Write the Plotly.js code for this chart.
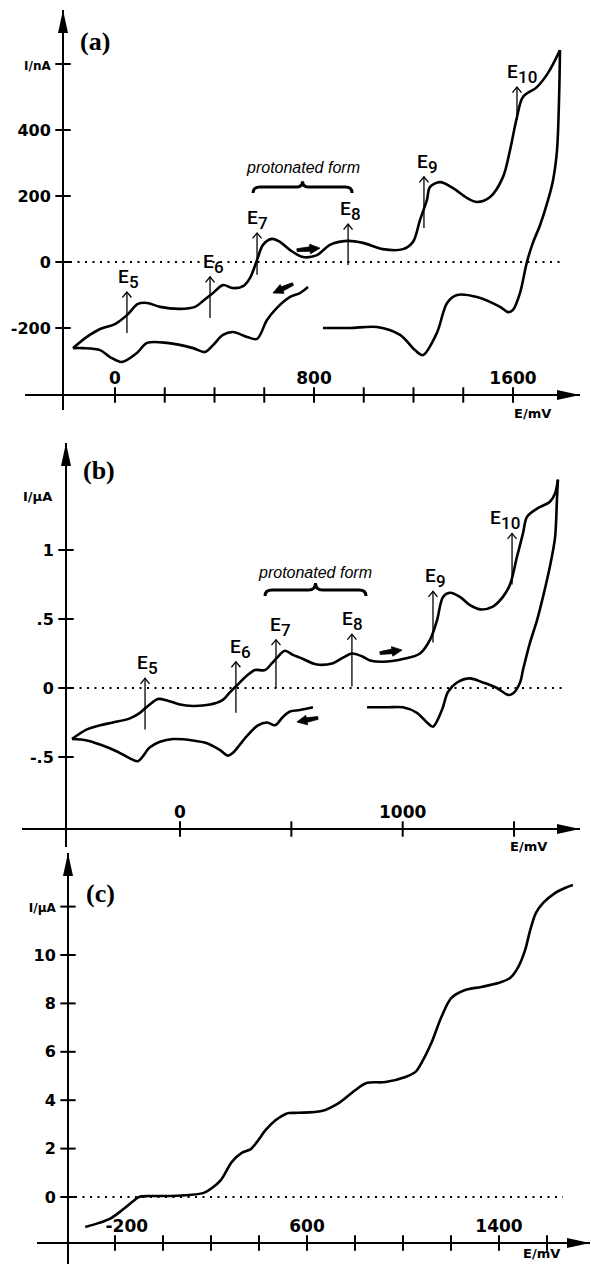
<!DOCTYPE html>
<html><head><meta charset="utf-8">
<script src="https://cdn.plot.ly/plotly-3.0.1.min.js"></script>
<style>html,body{margin:0;padding:0;background:#fff;}#chart{width:591px;height:1264px;}</style>
</head><body><div id="chart"></div>
<script>
// ---------- DATA ----------
// Panel (a): cyclic voltammogram, E / mV, I / nA
const aFwdE = [-169,-113,-60,0,48,92,129,181,261,322,354,394,434,474,515,543,571,595,631,663,704,756,812,864,933,997,1077,1158,1198,1226,1254,1266,1307,1359,1415,1455,1508,1560,1588,1616,1640,1696,1741,1789];
const aFwdI = [-261,-227,-203,-188,-161,-127,-124,-136,-142,-136,-118,-94,-70,-79,-73,-48,6,52,70,61,36,15,21,52,64,58,39,39,61,127,188,227,242,224,194,182,197,258,339,439,500,530,573,642];
const aRevE = [1789,1785,1777,1761,1741,1709,1680,1656,1628,1600,1580,1548,1455,1375,1335,1294,1238,1206,1146,1053,945,836];
const aRevI = [642,491,339,248,188,112,58,0,-94,-145,-152,-136,-106,-100,-124,-215,-282,-267,-221,-197,-200,-200];
const aRev2E = [776,744,704,651,611,571,531,474,434,394,362,314,209,129,88,28,-20,-60,-129,-169];
const aRev2I = [-76,-94,-106,-139,-176,-233,-227,-212,-221,-252,-273,-261,-245,-245,-276,-303,-288,-267,-261,-261];

// Panel (b): cyclic voltammogram, E / mV, I / uA
const bFwdE = [-485,-418,-359,-301,-225,-180,-144,-99,-58,0,58,135,189,225,256,301,337,382,413,436,471,507,539,615,687,732,772,817,853,911,1001,1078,1123,1154,1181,1212,1257,1302,1347,1405,1450,1482,1513,1540,1558,1603,1661,1684,1697];
const bFwdI = [-0.37,-0.30,-0.27,-0.25,-0.22,-0.18,-0.13,-0.08,-0.09,-0.12,-0.13,-0.12,-0.09,-0.03,0.02,0.09,0.13,0.13,0.18,0.22,0.27,0.24,0.22,0.17,0.18,0.22,0.25,0.23,0.20,0.19,0.21,0.25,0.35,0.49,0.66,0.69,0.66,0.60,0.57,0.59,0.66,0.75,0.95,1.12,1.24,1.30,1.35,1.41,1.51];
const bRevE = [1697,1693,1684,1661,1630,1603,1572,1540,1527,1495,1473,1423,1360,1302,1244,1203,1176,1136,1109,1064,1001,929,840];
const bRevI = [1.51,1.38,1.09,0.88,0.66,0.49,0.33,0.13,0.04,-0.04,-0.05,0.00,0.04,0.07,0.04,-0.03,-0.16,-0.28,-0.25,-0.18,-0.14,-0.14,-0.14];
const bRev2E = [597,539,494,462,427,391,350,305,269,238,216,180,121,58,-31,-90,-135,-189,-225,-283,-359,-418,-485];
const bRev2I = [-0.14,-0.16,-0.17,-0.21,-0.27,-0.25,-0.27,-0.34,-0.41,-0.47,-0.49,-0.45,-0.40,-0.38,-0.37,-0.39,-0.43,-0.53,-0.51,-0.46,-0.41,-0.38,-0.37];

// Panel (c): steady-state voltammogram, E / mV, I / uA
const cE = [-324,-266,-216,-170,-129,-100,-58,37,108,170,204,241,287,328,366,391,428,470,511,524,565,661,732,802,848,927,1010,1052,1077,1118,1160,1201,1259,1326,1397,1446,1480,1509,1530,1554,1584,1633,1675,1708];
const cI = [-1.24,-1.07,-0.87,-0.54,-0.21,0,0.04,0.04,0.08,0.17,0.37,0.70,1.45,1.82,1.98,2.27,2.77,3.18,3.43,3.47,3.48,3.55,3.88,4.42,4.71,4.75,4.96,5.17,5.54,6.36,7.44,8.22,8.55,8.68,8.84,9.05,9.50,10.21,11.03,11.74,12.15,12.56,12.77,12.89];

// Formal potentials marked with arrows
const eSub = ['5','6','7','8','9','10'];
const aE = [48,382,571,937,1242,1616];
const aEfrom = [-215,-170,-39,-9,103,430];
const aEto = [-91,-45,88,115,258,530];
const bE = [-157,251,431,772,1136,1491];
const bEfrom = [-0.30,-0.18,0,0.01,0.33,0.75];
const bEto = [0.07,0.19,0.35,0.39,0.70,1.12];

// Tick values and labels
const aXTicks = [0,200,400,600,800,1000,1200,1400,1600];
const aXLabVals = [0,800,1600], aXLabText = ['0','800','1600'];
const aYTicks = [-200,0,200,400,600];
const aYLabText = ['-200','0','200','400','I/nA'];
const bXTicks = [0,500,1000,1500];
const bXLabVals = [0,1000], bXLabText = ['0','1000'];
const bYTicks = [-0.5,0,0.5,1];
const bYLabText = ['-.5','0','.5','1'];
const cXTicks = [-200,0,200,400,600,800,1000,1200,1400,1600];
const cXLabVals = [-200,600,1400], cXLabText = ['\u00a0\u00a0\u00a0\u00a0-200','600','1400'];
const cYTicks = [0,2,4,6,8,10,12];
const cYLabText = ['0','2','4','6','8','10','I/\u03bcA'];

// ---------- LAYOUT GEOMETRY (pixels of the 591x1264 page) ----------
const W = 591, H = 1264;
const px2p = v => v / W, py2p = v => 1 - v / H;
const cal = [
  {x0:115, kx:0.24875, y0:262,  ky:0.33, xl:25, xr:580, yt:10,  yb:410,  axY:395,  axX:63},
  {x0:180, kx:0.2227,  y0:688,  ky:138,  xl:22, xr:580, yt:443, yb:847,  axY:829,  axX:66},
  {x0:163, kx:0.24,    y0:1197, ky:24.2, xl:37, xr:590, yt:853, yb:1264, axY:1243, axX:68}
];
const dX = (c,p) => (p - c.x0) / c.kx;
const dY = (c,p) => (c.y0 - p) / c.ky;

const BOLD = {family:'DejaVu Sans', weight:'bold', color:'#000'};
const unitSpan = t => '<span style="font-size:12px">' + t + '</span>';

function xAxis(c, vals, text, size){
  return {domain:[px2p(c.xl), px2p(c.xr)], range:[dX(c,c.xl), dX(c,c.xr)], anchor:'free', position:py2p(c.axY),
    showline:true, linecolor:'#000', linewidth:2.2, showgrid:false, zeroline:false, ticks:'',
    tickmode:'array', tickvals:vals, ticktext:text, ticklabelposition:'inside', ticklabelstandoff:7,
    tickfont:Object.assign({size:size}, BOLD), fixedrange:true};
}
function yAxis(c, vals, text){
  return {domain:[py2p(c.yb), py2p(c.yt)], range:[dY(c,c.yb), dY(c,c.yt)], anchor:'free', position:px2p(c.axX),
    showline:true, linecolor:'#000', linewidth:2.2, showgrid:false, zeroline:false, ticks:'',
    tickmode:'array', tickvals:vals, ticktext:text, ticklabelstandoff:8,
    tickfont:Object.assign({size:16}, BOLD), fixedrange:true};
}

const curve = {color:'#000', width:2.6, shape:'spline', smoothing:0.9};
const traces = [];
function addCurve(x, y, xa, ya){ traces.push({type:'scatter', mode:'lines', x:x, y:y, xaxis:xa, yaxis:ya, line:curve, hoverinfo:'skip'}); }
function addTicks(c, xt, yt, xa, ya){
  const xPos = dY(c, c.axY), yPos = dX(c, c.axX);
  traces.push({type:'scatter', mode:'markers', x:xt, y:xt.map(()=>xPos), xaxis:xa, yaxis:ya, cliponaxis:false,
    marker:{symbol:'line-ns', size:11, line:{width:2, color:'#000'}}, hoverinfo:'skip'});
  traces.push({type:'scatter', mode:'markers', x:yt.map(()=>yPos), y:yt, xaxis:xa, yaxis:ya, cliponaxis:false,
    marker:{symbol:'line-ew', size:11, line:{width:2, color:'#000'}}, hoverinfo:'skip'});
}

addCurve(aFwdE, aFwdI, 'x', 'y'); addCurve(aRevE, aRevI, 'x', 'y'); addCurve(aRev2E, aRev2I, 'x', 'y');
addCurve(bFwdE, bFwdI, 'x2', 'y2'); addCurve(bRevE, bRevI, 'x2', 'y2'); addCurve(bRev2E, bRev2I, 'x2', 'y2');
addCurve(cE, cI, 'x3', 'y3');
addTicks(cal[0], aXTicks, aYTicks, 'x', 'y');
addTicks(cal[1], bXTicks, bYTicks, 'x2', 'y2');
addTicks(cal[2], cXTicks, cYTicks, 'x3', 'y3');

const shapes = [], ann = [];
const NOLINE = {width:0, color:'rgba(0,0,0,0)'};
// axis arrowheads
function tri(pts){ return 'M' + pts.map(p => px2p(p[0]) + ',' + py2p(p[1])).join(' L') + ' Z'; }
cal.forEach(c => {
  shapes.push({type:'path', xref:'paper', yref:'paper', path:tri([[c.xr,c.axY],[c.xr-23,c.axY-5],[c.xr-23,c.axY+5]]), fillcolor:'#000', line:NOLINE});
  shapes.push({type:'path', xref:'paper', yref:'paper', path:tri([[c.axX,c.yt],[c.axX-5,c.yt+23],[c.axX+5,c.yt+23]]), fillcolor:'#000', line:NOLINE});
});
// dotted zero lines
[['x','y',0,70,563],['x2','y2',1,72,563],['x3','y3',2,75,563]].forEach(z => {
  const c = cal[z[2]];
  shapes.push({type:'line', xref:z[0], yref:z[1], x0:dX(c,z[3]), x1:dX(c,z[4]), y0:0, y1:0, line:{color:'#000', width:2, dash:'2px,5.5px'}});
});
// braces
function bracePath(x0, x1, yBar, yEnd, yTip){
  const xm = (x0 + x1) / 2, d = (x1 - x0) * 0.07;
  return `M${x0},${yEnd} Q${x0},${yBar} ${x0+d},${yBar} L${xm-d},${yBar} Q${xm},${yBar} ${xm},${yTip} Q${xm},${yBar} ${xm+d},${yBar} L${x1-d},${yBar} Q${x1},${yBar} ${x1},${yEnd}`;
}
shapes.push({type:'path', xref:'x', yref:'y', path:bracePath(555, 953, 227, 209, 245), line:{color:'#000', width:3}});
shapes.push({type:'path', xref:'x2', yref:'y2', path:bracePath(382, 835, 0.71, 0.667, 0.761), line:{color:'#000', width:3}});
ann.push({xref:'x', yref:'y', x:756, y:285, text:'protonated form', showarrow:false, font:{family:'Liberation Sans', size:16, style:'italic', color:'#000'}});
ann.push({xref:'x2', yref:'y2', x:606, y:0.84, text:'protonated form', showarrow:false, font:{family:'Liberation Sans', size:16, style:'italic', color:'#000'}});

// E arrows (thin line + open chevron) and labels (E with a lowered index)
const EFONT = {family:'Roboto', weight:500, size:19, color:'#000'};
const IFONT = {family:'Roboto', weight:500, size:17, color:'#000'};
function eArrows(xr, yr, c, xs, y0s, y1s, shifts){
  const w = 4.5 / c.kx, h = 5.5 / c.ky;
  xs.forEach((x, i) => {
    const yt = y1s[i];
    shapes.push({type:'line', xref:xr, yref:yr, x0:x, x1:x, y0:y0s[i], y1:yt, line:{color:'#000', width:1.3}});
    shapes.push({type:'path', xref:xr, yref:yr, path:`M${x-w},${yt-h} L${x},${yt} L${x+w},${yt-h}`, line:{color:'#000', width:1.3}});
    ann.push({xref:xr, yref:yr, x:x, y:yt, text:'E', showarrow:false, xanchor:'right', yanchor:'bottom',
      xshift:shifts[i] + 3, yshift:2, font:EFONT});
    ann.push({xref:xr, yref:yr, x:x, y:yt, text:eSub[i], showarrow:false, xanchor:'left', yanchor:'bottom',
      xshift:shifts[i] - 1, yshift:-2, font:IFONT});
  });
}
eArrows('x', 'y', cal[0], aE, aEfrom, aEto, [1,3,0,2,3,0]);
eArrows('x2', 'y2', cal[1], bE, bEfrom, bEto, [2,4,4,0,2,-12]);

// scan-direction arrows (filled darts); tail offset (ax, ay) in pixels from the tip
function dart(xr, yr, c, tx, ty, ax, ay){
  const L = Math.hypot(ax, ay), ux = ax / L, uy = ay / L, nx = -uy, ny = ux;
  const hl = 10, hw = 4.8, bw = 2.3;
  const pts = [[0,0],[ux*hl+nx*hw, uy*hl+ny*hw],[ux*hl+nx*bw, uy*hl+ny*bw],[ux*L+nx*bw*0.6, uy*L+ny*bw*0.6],
               [ux*L-nx*bw*0.6, uy*L-ny*bw*0.6],[ux*hl-nx*bw, uy*hl-ny*bw],[ux*hl-nx*hw, uy*hl-ny*hw]];
  const path = 'M' + pts.map(p => (tx + p[0] / c.kx) + ',' + (ty - p[1] / c.ky)).join(' L') + ' Z';
  shapes.push({type:'path', xref:xr, yref:yr, path:path, fillcolor:'#000', line:{color:'#000', width:0.8}});
}
dart('x', 'y', cal[0], 824, 42, -23, 2);
dart('x', 'y', cal[0], 635, -94, 20, -9);
dart('x2', 'y2', cal[1], 997, 0.275, -22, 3);
dart('x2', 'y2', cal[1], 525, -0.246, 21, -4);

// panel letters and unit labels
[['(a)',95,42],['(b)',99,470],['(c)',100,893]].forEach(p => ann.push({xref:'paper', yref:'paper', x:px2p(p[1]), y:py2p(p[2]),
  text:'<b>' + p[0] + '</b>', showarrow:false, xanchor:'center', yanchor:'middle', font:{family:'Liberation Serif', size:26, color:'#000'}}));
[[532,404],[528,837],[541,1244]].forEach(p => ann.push({xref:'paper', yref:'paper', x:px2p(p[0]), y:py2p(p[1]),
  text:'E/mV', showarrow:false, xanchor:'center', yanchor:'top', font:Object.assign({size:13}, BOLD)}));
ann.push({xref:'paper', yref:'paper', x:px2p(54), y:py2p(496), text:'I/\u03bcA', showarrow:false, xanchor:'right', yanchor:'middle', font:Object.assign({size:13}, BOLD)});

const layout = {
  width:W, height:H, margin:{l:0, r:0, t:0, b:0}, paper_bgcolor:'#fff', plot_bgcolor:'rgba(0,0,0,0)',
  showlegend:false, hovermode:false, font:{family:'DejaVu Sans', color:'#000'},
  xaxis:xAxis(cal[0], aXLabVals, aXLabText, 17),
  yaxis:yAxis(cal[0], aYTicks, aYLabText.map((t,i)=> i===4 ? unitSpan(t) : t)),
  xaxis2:xAxis(cal[1], bXLabVals, bXLabText, 17),
  yaxis2:yAxis(cal[1], bYTicks, bYLabText),
  xaxis3:xAxis(cal[2], cXLabVals, cXLabText, 17),
  yaxis3:yAxis(cal[2], cYTicks, cYLabText.map((t,i)=> i===6 ? unitSpan(t) : t)),
  shapes:shapes, annotations:ann
};
Plotly.newPlot('chart', traces, layout, {staticPlot:true, displayModeBar:false});
</script></body></html>
